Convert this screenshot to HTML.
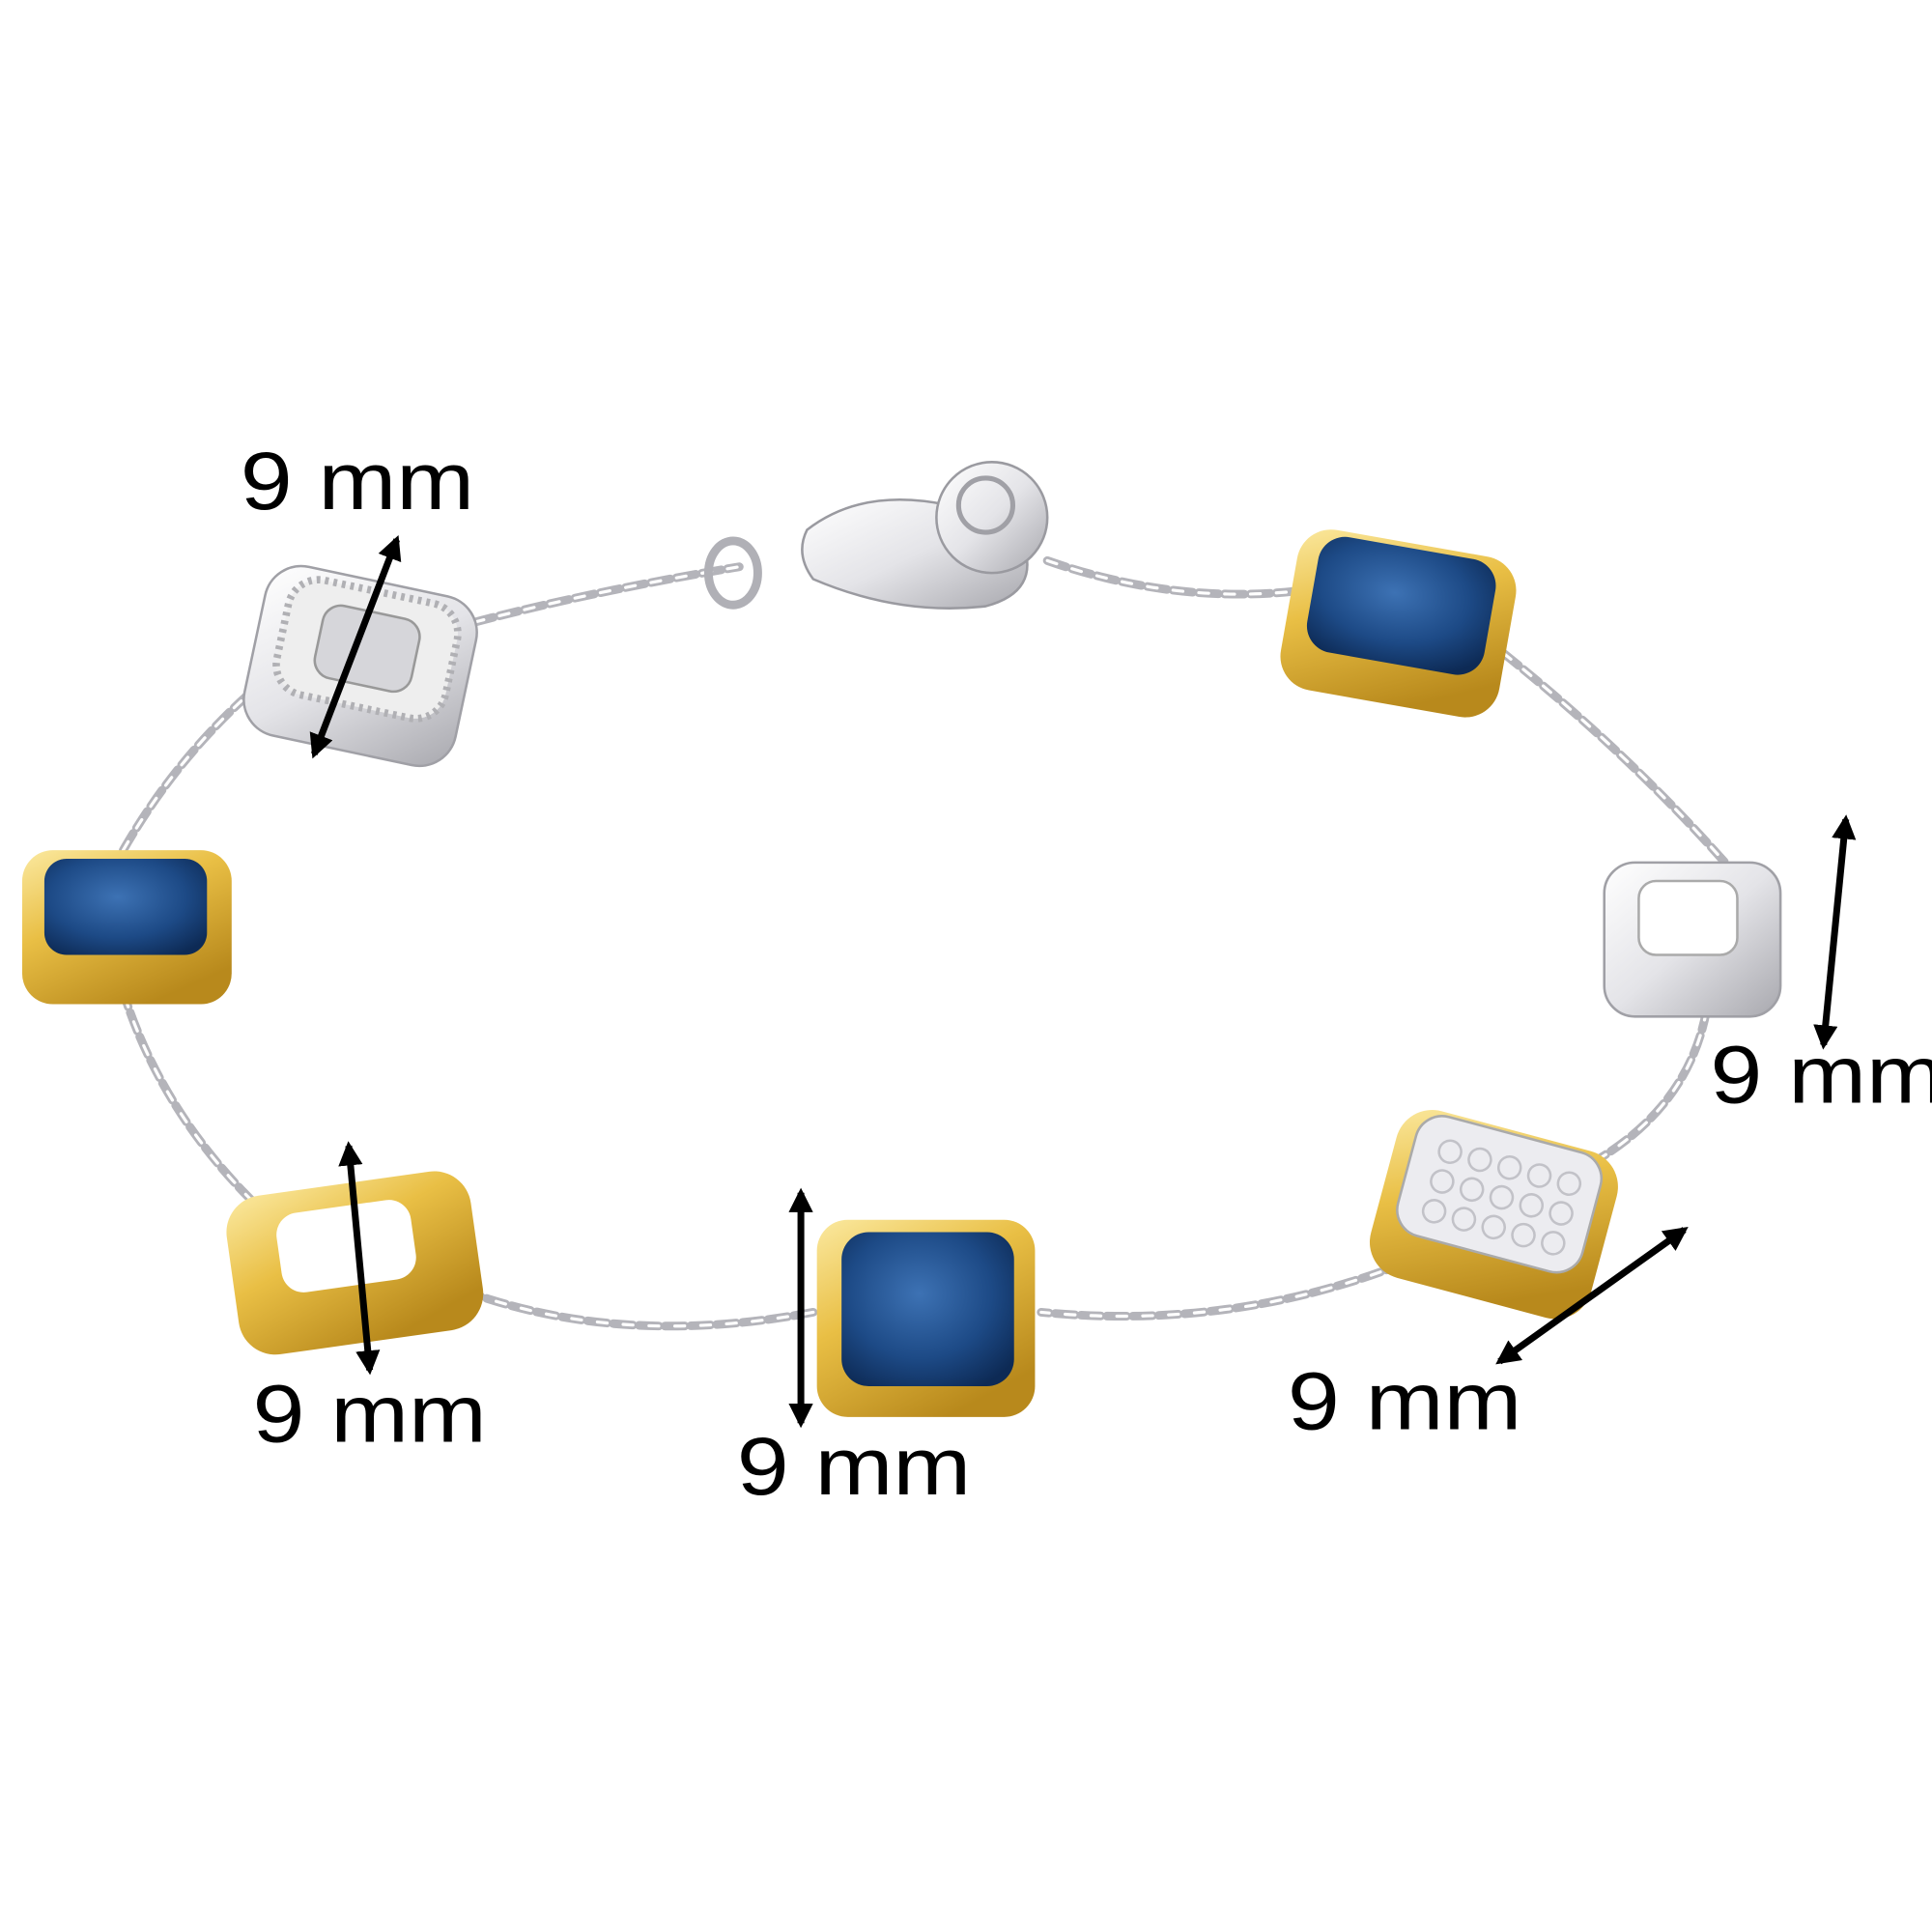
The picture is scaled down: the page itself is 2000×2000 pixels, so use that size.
<!DOCTYPE html>
<html><head><meta charset="utf-8"><style>html,body{margin:0;padding:0;background:#fff}svg{display:block}</style></head><body>
<svg width="2000" height="2000" viewBox="0 0 1568 1568" xmlns="http://www.w3.org/2000/svg">
<defs>
<linearGradient id="gold" x1="0" y1="0" x2="0.6" y2="1"><stop offset="0" stop-color="#fbe9a0"/><stop offset="0.45" stop-color="#e9bf45"/><stop offset="1" stop-color="#b8891c"/></linearGradient>
<linearGradient id="silver" x1="0" y1="0" x2="1" y2="1"><stop offset="0" stop-color="#ffffff"/><stop offset="0.5" stop-color="#e4e4e8"/><stop offset="1" stop-color="#a8a8ae"/></linearGradient>
<radialGradient id="blue" cx="0.45" cy="0.4" r="0.7"><stop offset="0" stop-color="#3d72b4"/><stop offset="0.6" stop-color="#1d4a86"/><stop offset="1" stop-color="#0d2a55"/></radialGradient>
<marker id="ah" viewBox="0 0 10 10" refX="8" refY="5" markerWidth="3.6" markerHeight="3.6" orient="auto-start-reverse"><path d="M0,0L10,5L0,10z" fill="#000"/></marker>
</defs>
<g fill="none" stroke-linecap="round">
<g stroke="#b4b4ba" stroke-width="7" stroke-dasharray="16 5">
<path d="M385,505 Q480,480 600,460"/>
<path d="M850,455 Q950,490 1050,480"/>
<path d="M1220,530 Q1320,610 1400,700"/>
<path d="M1385,820 Q1370,900 1290,945"/>
<path d="M1140,1025 Q1000,1080 845,1065"/>
<path d="M660,1065 Q500,1095 370,1045"/>
<path d="M205,975 Q130,900 100,805"/>
<path d="M100,690 Q140,620 200,565"/>
</g>
<g stroke="#fff" stroke-width="2.5" stroke-dasharray="8 13">
<path d="M385,505 Q480,480 600,460"/>
<path d="M850,455 Q950,490 1050,480"/>
<path d="M1220,530 Q1320,610 1400,700"/>
<path d="M1385,820 Q1370,900 1290,945"/>
<path d="M1140,1025 Q1000,1080 845,1065"/>
<path d="M660,1065 Q500,1095 370,1045"/>
<path d="M205,975 Q130,900 100,805"/>
<path d="M100,690 Q140,620 200,565"/>
</g>
</g>
<ellipse cx="595" cy="465" rx="20" ry="26" fill="none" stroke="#b0b0b6" stroke-width="7"/>
<path d="M655,430 Q700,395 770,410 L830,440 Q845,480 800,492 Q730,500 660,470 Q645,450 655,430z" fill="url(#silver)" stroke="#9a9aa0" stroke-width="2"/>
<circle cx="805" cy="420" r="45" fill="url(#silver)" stroke="#9a9aa0" stroke-width="2"/>
<circle cx="800" cy="410" r="22" fill="none" stroke="#a0a0a6" stroke-width="4"/>
<g transform="rotate(12 290 540)">
<rect x="205" y="470" width="175" height="140" rx="30" fill="url(#silver)" stroke="#a0a0a6" stroke-width="2"/>
<rect x="225" y="478" width="140" height="95" rx="25" fill="#eee" stroke="#b0b0b4" stroke-width="6" stroke-dasharray="3 4"/>
<rect x="255" y="495" width="80" height="60" rx="15" fill="#d6d6da" stroke="#999" stroke-width="2"/>
</g>
<rect x="18" y="690" width="170" height="125" rx="25" fill="url(#gold)"/>
<rect x="36" y="697" width="132" height="78" rx="18" fill="url(#blue)"/>
<g transform="rotate(-8 288 1025)">
<rect x="188" y="960" width="200" height="130" rx="30" fill="url(#gold)"/>
<rect x="228" y="978" width="110" height="65" rx="18" fill="#fff"/>
</g>
<rect x="663" y="990" width="177" height="160" rx="25" fill="url(#gold)"/>
<rect x="683" y="1000" width="140" height="125" rx="22" fill="url(#blue)"/>
<g transform="rotate(15 1210 985)">
<rect x="1120" y="915" width="185" height="140" rx="30" fill="url(#gold)"/>
<rect x="1135" y="918" width="155" height="100" rx="22" fill="#ececf0" stroke="#aaa" stroke-width="2"/>
<g fill="none" stroke="#c2c2c8" stroke-width="2">
<circle cx="1165" cy="945" r="9"/><circle cx="1190" cy="945" r="9"/><circle cx="1215" cy="945" r="9"/><circle cx="1240" cy="945" r="9"/><circle cx="1265" cy="945" r="9"/>
<circle cx="1165" cy="970" r="9"/><circle cx="1190" cy="970" r="9"/><circle cx="1215" cy="970" r="9"/><circle cx="1240" cy="970" r="9"/><circle cx="1265" cy="970" r="9"/>
<circle cx="1165" cy="995" r="9"/><circle cx="1190" cy="995" r="9"/><circle cx="1215" cy="995" r="9"/><circle cx="1240" cy="995" r="9"/><circle cx="1265" cy="995" r="9"/>
</g>
</g>
<rect x="1302" y="700" width="143" height="125" rx="25" fill="url(#silver)" stroke="#a0a0a6" stroke-width="2"/>
<rect x="1330" y="715" width="80" height="60" rx="14" fill="#fff" stroke="#aaa" stroke-width="2"/>
<g transform="rotate(10 1135 505)">
<rect x="1045" y="440" width="180" height="132" rx="28" fill="url(#gold)"/>
<rect x="1062" y="444" width="146" height="95" rx="22" fill="url(#blue)"/>
</g>
<g stroke="#000" stroke-width="5.5" marker-start="url(#ah)" marker-end="url(#ah)">
<line x1="322" y1="438" x2="255" y2="612"/>
<line x1="283" y1="930" x2="300" y2="1112"/>
<line x1="650" y1="968" x2="650" y2="1155"/>
<line x1="1498" y1="665" x2="1480" y2="848"/>
<line x1="1367" y1="998" x2="1217" y2="1105"/>
</g>
<g font-family="Liberation Sans, sans-serif" font-size="66" fill="#000">
<text x="195" y="413" textLength="190" lengthAdjust="spacingAndGlyphs">9 mm</text>
<text x="205" y="1170" textLength="190" lengthAdjust="spacingAndGlyphs">9 mm</text>
<text x="598" y="1213" textLength="190" lengthAdjust="spacingAndGlyphs">9 mm</text>
<text x="1045" y="1160" textLength="190" lengthAdjust="spacingAndGlyphs">9 mm</text>
<text x="1388" y="895" textLength="190" lengthAdjust="spacingAndGlyphs">9 mm</text>
</g>
</svg>
</body></html>
